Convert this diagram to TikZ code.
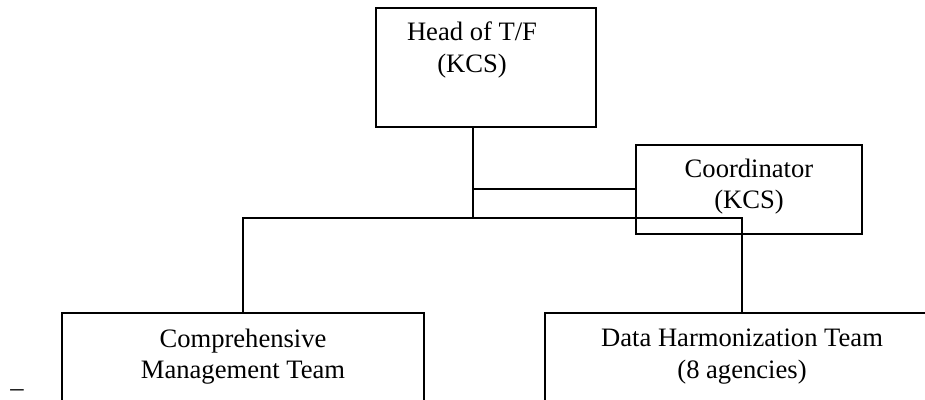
\documentclass[tikz,border=0pt]{standalone}
\usepackage{fontspec}
\setmainfont{Liberation Serif}
\usetikzlibrary{positioning}

\begin{document}
\begin{tikzpicture}[x=0.5pt, y=-0.5pt,
		box/.style={draw, line width=1.1pt, inner sep=0pt},
		txt/.style={align=center, anchor=north, inner sep=0pt, font=\fontsize{13.3}{15.75}\selectfont},
		link/.style={line width=1.1pt}]
		\useasboundingbox (0,0) rectangle (925,400);
		\clip (0,0) rectangle (925,400);

		\node[box, minimum width=110pt, minimum height=59.5pt] (head) at (486,67.5) {};
		\node[box, minimum width=113pt, minimum height=44.7pt] (coord) at (749,189.4) {};
		\node[box, minimum width=181pt, minimum height=73.5pt] (comp) at (243,386.5) {};
		\node[box, minimum width=197pt, minimum height=73.5pt] (data) at (742,386.5) {};

		\node[txt] (headtxt) at (472,21.8) {Head of T/F\\(KCS)};
		\node[txt] (coordtxt) at (749,158.5) {Coordinator\\(KCS)};
		\node[txt] (comptxt) at (243,328.5) {Comprehensive\\Management Team};
		\node[txt] (datatxt) at (742,328.5) {Data Harmonization Team\\(8 agencies)};
		\node[anchor=base, inner sep=0pt, font=\fontsize{13.3}{15.75}\selectfont] (dash) at (17,396) {--};

		\coordinate (hub) at (473,218);
		\draw[link] (hub |- head.south) -- (hub);
		\draw[link] (hub |- coord.west) -- (coord.west);
		\draw[link] (comp.north) |- (data.north |- hub) -- (data.north);
	\end{tikzpicture}
\end{document}
